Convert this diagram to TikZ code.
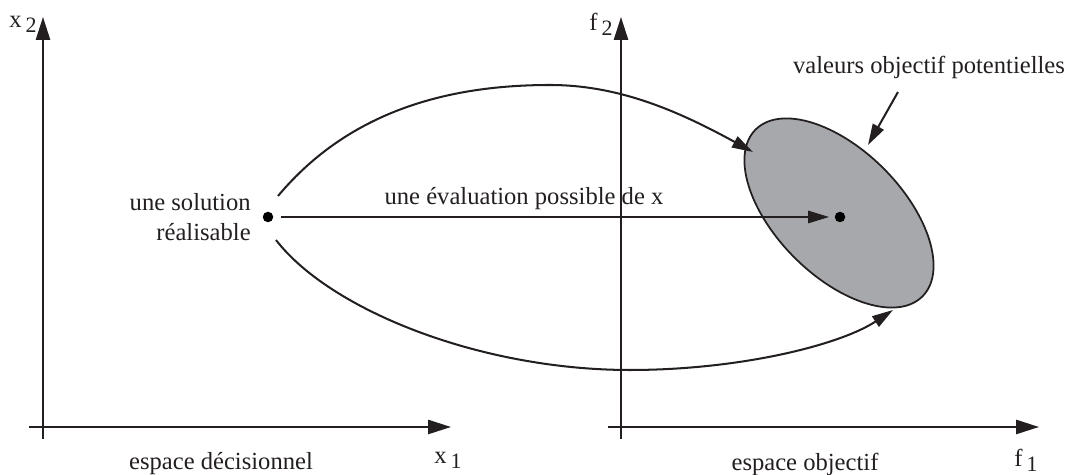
\documentclass[tikz,border=0pt]{standalone}
\usepackage{fontspec}
\setmainfont{Liberation Serif}
\usetikzlibrary{arrows.meta,shapes.geometric}
\definecolor{ink}{RGB}{35,31,32}
\definecolor{blobgray}{RGB}{167,168,172}
\newcommand{\lowsub}[1]{\,\raisebox{-0.45ex}{\fontsize{12.5}{12.5}\selectfont #1}}
\begin{document}
\begin{tikzpicture}[x=0.02cm,y=-0.02cm,
  every node/.style={font=\fontsize{14}{17}\selectfont, text=ink},
  axis/.style={draw=ink, line width=1.25pt, -{Triangle[length=13pt,width=8pt]}},
  conn/.style={draw=ink, line width=1.15pt, -{Triangle[length=12pt,width=7pt]}},
  dotnode/.style={circle, fill=black, inner sep=0pt, minimum size=0.21cm},
  lbl/.style={inner sep=0pt}]
\useasboundingbox (0,0) rectangle (1069,475);

% left axes
\coordinate (lyb) at (43,439);
\coordinate (lyt) at (43,17);
\coordinate (lxl) at (29,427);
\coordinate (lxr) at (451,427);
\draw[axis] (lyb) -- (lyt);
\draw[axis] (lxl) -- (lxr);
\node[lbl] (x2) at (23,24) {x\lowsub{2}};
\node[lbl] (x1) at (448,460) {x\lowsub{1}};
\node[lbl] (dec) at (221,464) {espace décisionnel};

% right axes
\coordinate (ryb) at (621,439);
\coordinate (ryt) at (621,17);
\coordinate (rxl) at (608,427);
\coordinate (rxr) at (1039,427);
\draw[axis] (ryb) -- (ryt);
\draw[axis] (rxl) -- (rxr);
\node[lbl] (f2) at (601,24) {f\lowsub{2}};
\node[lbl] (f1) at (1026,460) {f\lowsub{1}};
\node[lbl] (obj) at (805,464) {espace objectif};

% ellipse
\node[ellipse, draw=ink, line width=1pt, fill=blobgray, inner sep=0pt,
      minimum width=4.72cm, minimum height=2.52cm, rotate=-45] (ell) at (839,213) {};

% dots
\node[dotnode] (s) at (268,217) {};
\node[dotnode] (t) at (840,217) {};

% labels
\node[lbl, align=right, anchor=east] (sl) at (251,217) {une solution\\réalisable};
\node[lbl] (el) at (524,199) {une évaluation possible de x};
\node[lbl] (vl) at (929,67) {valeurs objectif potentielles};

% connectors
\draw[conn, shorten <=4pt, shorten >=3pt] (s) -- (t);
\coordinate (u0) at (278,196);
\coordinate (um) at (550,85);
\coordinate (u1) at (753,152);
\draw[conn] (u0) .. controls (350,110) and (450,85) .. (um)
                 .. controls (620,85) and (680,112) .. (u1);
\coordinate (d0) at (276,240);
\coordinate (dm) at (630,370);
\coordinate (d1) at (893,310);
\draw[conn] (d0) .. controls (330,310) and (480,370) .. (dm)
                 .. controls (740,370) and (840,345) .. (d1);
\coordinate (v0) at (898,92);
\coordinate (v1) at (868,145);
\draw[conn] (v0) -- (v1);
\end{tikzpicture}
\end{document}
